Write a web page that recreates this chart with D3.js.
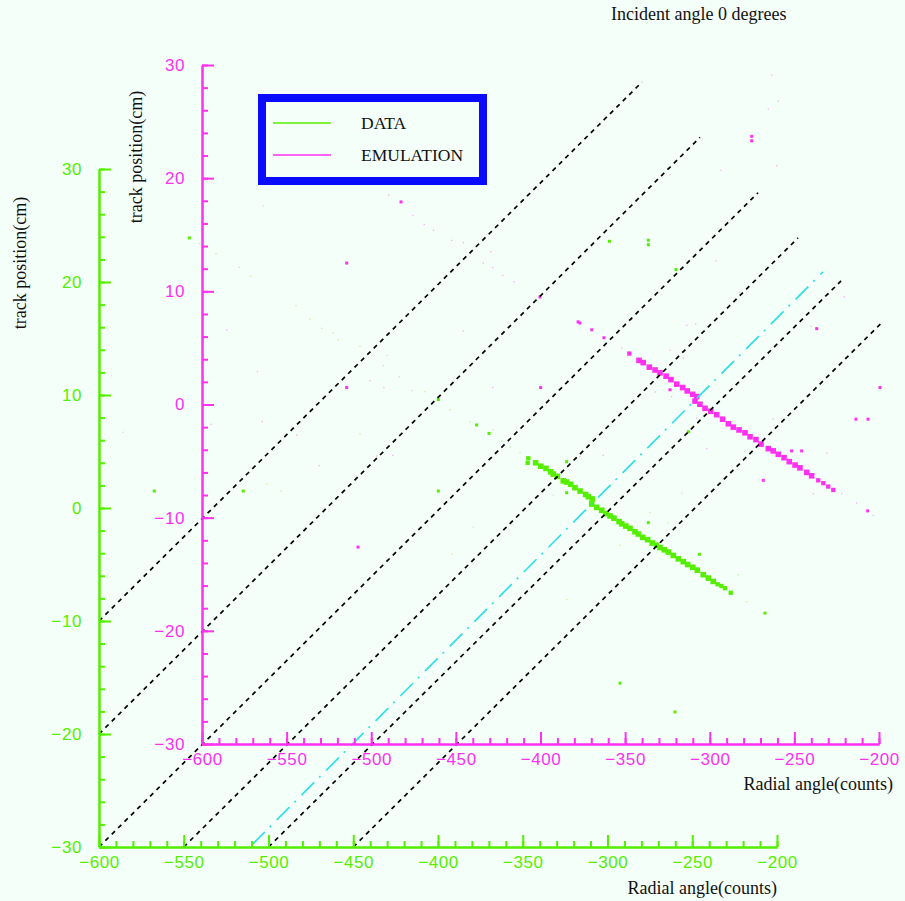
<!DOCTYPE html>
<html>
<head>
<meta charset="utf-8">
<script src="https://cdn.jsdelivr.net/npm/d3@7"></script>
<style>
  body { margin: 0; background: #f5fffa; }
  svg { display: block; }
</style>
</head>
<body>
<script>
// Track position vs radial angle: DATA and EMULATION drawn in two offset frames
const title = "Incident angle 0 degrees";
const xTitle = "Radial angle(counts)";
const yTitle = "track position(cm)";
const seriesNames = ["DATA", "EMULATION"];
const xDomain = [-600, -200];
const yDomain = [-30, 30];

// [radial angle, track position, entries]
const dataPoints = [
  [-346.7, 4.4, 3], [-347.1, 4.0, 3], [-342.4, 4.0, 4], [-339.4, 3.7, 4], [-336.3, 3.5, 4],
  [-333.5, 3.2, 4], [-332.0, 3.0, 4], [-329.6, 2.8, 4], [-326.1, 2.4, 4], [-324.1, 2.3, 4],
  [-321.7, 2.1, 4], [-319.2, 1.8, 4], [-316.2, 1.5, 4], [-312.9, 1.2, 4], [-311.3, 1.0, 4],
  [-309.0, 0.8, 4], [-309.3, 0.35, 4], [-306.4, 0.06, 4], [-303.4, -0.2, 4], [-300.9, -0.5, 4],
  [-298.5, -0.7, 4], [-296.2, -0.9, 4], [-293.2, -1.2, 4], [-291.6, -1.4, 4], [-289.2, -1.6, 4],
  [-286.7, -1.8, 4], [-283.8, -2.1, 4], [-281.8, -2.3, 4], [-279.2, -2.6, 4], [-276.3, -2.8, 4],
  [-273.6, -3.1, 4], [-271.0, -3.3, 4], [-269.0, -3.5, 4], [-266.5, -3.7, 4], [-264.1, -3.9, 4],
  [-261.2, -4.2, 4], [-258.2, -4.5, 4], [-255.3, -4.75, 4], [-252.7, -5.0, 4], [-249.7, -5.25, 4],
  [-247.0, -5.5, 4], [-243.5, -5.9, 4], [-240.5, -6.2, 4], [-237.6, -6.5, 4], [-235.0, -6.75, 3],
  [-232.8, -6.9, 3], [-230.7, -7.1, 3], [-227.3, -7.5, 3],
  [-324.1, 4.1, 2], [-324.1, 1.35, 2], [-275.9, -1.3, 2], [-245.8, -4.1, 2], [-399.8, 1.5, 2],
  [-369.9, 6.6, 2], [-252.3, 6.75, 2], [-377.2, 7.35, 2], [-399.8, 9.6, 2], [-514.9, 1.5, 2],
  [-567.4, 1.5, 2], [-546.7, 23.9, 2], [-298.9, 23.6, 2], [-275.9, 23.7, 2], [-275.9, 23.3, 2],
  [-259.6, 21.1, 2], [-207.1, -9.3, 2], [-260.2, -18.05, 2], [-292.6, -15.5, 2],
  [-503.1, 26.75, 1], [-540.8, 23.4, 1], [-531.0, 22.5, 1], [-517.2, 21.3, 1], [-510.5, 20.5, 1],
  [-483.8, 17.9, 1], [-475.5, 16.7, 1], [-468.6, 15.9, 1], [-461.8, 15.5, 1], [-458.8, 14.9, 1],
  [-446.0, 14.3, 1], [-429.9, 13.5, 1], [-432.3, 12.6, 1], [-422.8, 11.6, 1], [-415.5, 10.4, 1],
  [-407.7, 10.3, 1], [-392.9, 8.7, 1], [-381.1, 7.6, 1], [-367.4, 6.9, 1], [-362.4, 5.9, 1],
  [-357.5, 5.4, 1], [-446.0, 6.55, 1], [-501.1, 2.1, 1], [-492.6, 1.5, 1], [-592.5, 11.7, 1],
  [-585.7, 6.7, 1], [-351.6, 4.9, 1], [-332.0, 1.15, 1], [-256.2, 1.3, 1], [-264.1, -1.3, 1],
  [-292.6, -3.3, 1], [-222.8, -5.9, 1], [-217.9, -8.3, 1], [-324.1, -8.1, 1], [-391.6, -4.1, 1],
  [-379.2, -1.7, 1], [-274.9, -0.4, 1]
];

const emulationPoints = [
  [-376.7, 7.2, 2], [-369.7, 6.6, 2], [-362.5, 5.9, 2],
  [-347.5, 4.5, 3], [-341.8, 3.9, 4], [-339.3, 3.7, 4], [-335.7, 3.3, 4], [-332.3, 3.05, 4],
  [-329.4, 2.8, 4], [-325.8, 2.5, 4], [-322.9, 2.2, 4], [-319.5, 1.8, 4], [-316.0, 1.5, 4],
  [-313.3, 1.2, 4], [-310.1, 0.9, 4], [-307.7, 0.7, 4], [-308.7, 0.3, 4], [-305.8, 0.02, 4],
  [-302.8, -0.34, 4], [-299.4, -0.6, 4], [-295.9, -0.9, 4], [-292.4, -1.3, 4], [-289.0, -1.7, 4],
  [-286.1, -2.0, 4], [-282.7, -2.25, 4], [-279.2, -2.5, 4], [-276.2, -2.85, 4], [-272.7, -3.1, 4],
  [-269.7, -3.5, 4], [-265.4, -3.9, 4], [-262.5, -4.1, 4], [-259.5, -4.4, 4], [-256.1, -4.7, 4],
  [-253.0, -5.05, 4], [-249.6, -5.35, 4], [-246.7, -5.6, 4], [-242.7, -6.0, 4], [-239.8, -6.3, 4],
  [-235.9, -6.7, 3], [-232.9, -6.95, 3], [-230.0, -7.25, 3], [-227.0, -7.55, 3],
  [-323.5, 1.3, 2], [-268.4, -6.7, 2], [-213.6, -1.3, 2], [-206.5, -1.3, 2], [-199.4, 1.5, 2],
  [-236.8, 6.7, 2], [-245.7, -4.1, 2], [-251.6, -4.1, 2], [-206.7, -9.4, 2], [-275.2, 23.7, 2],
  [-275.2, 23.3, 2], [-482.4, 17.9, 2], [-514.5, 12.5, 2], [-514.5, 1.5, 2], [-507.8, -12.6, 2],
  [-400.3, 9.5, 2], [-377.8, 7.3, 2], [-399.9, 1.5, 2],
  [-489.7, 18.5, 1], [-475.5, 16.7, 1], [-468.7, 15.9, 1], [-463.3, 15.4, 1], [-452.5, 14.5, 1],
  [-445.6, 14.3, 1], [-429.4, 13.5, 1], [-433.8, 12.5, 1], [-428.2, 12.1, 1], [-422.3, 11.4, 1],
  [-415.5, 10.85, 1], [-585.4, 6.6, 1], [-567.3, 2.9, 1], [-500.7, 2.1, 1], [-492.5, 1.5, 1],
  [-445.6, 6.5, 1], [-428.2, 1.5, 1], [-564.4, -1.5, 1], [-544.0, -2.7, 1], [-530.7, -5.4, 1],
  [-496.8, -4.55, 1], [-487.3, -4.5, 1], [-594.7, -1.75, 1], [-263.4, 29.1, 1], [-259.5, 26.8, 1],
  [-265.4, 26.1, 1], [-293.4, 20.7, 1], [-260.4, 21.1, 1], [-323.5, 20.3, 1], [-296.3, 12.7, 1],
  [-282.5, 9.9, 1], [-220.5, 9.5, 1], [-240.2, 6.9, 1], [-313.6, 7.0, 1], [-308.3, 7.1, 1],
  [-346.1, 7.5, 1], [-352.0, 5.0, 1], [-323.5, 4.8, 1], [-315.6, 4.1, 1], [-332.3, 1.1, 1],
  [-322.5, 0.7, 1], [-307.7, -1.2, 1], [-262.5, -1.3, 1], [-252.6, -4.1, 1], [-230.9, -4.3, 1],
  [-301.8, -3.9, 1], [-362.9, -4.5, 1], [-279.2, -4.1, 1], [-238.8, -7.9, 1], [-222.0, -7.85, 1],
  [-213.2, -8.7, 1], [-203.4, -9.8, 1], [-376.7, -4.6, 1]
];

// reference lines in the DATA frame: [x0, y0, x1, y1]
const guideLines = [
  [-600, -10, -279.6, 37.7],
  [-600, -20, -245.4, 32.8],
  [-600, -30, -211.2, 27.9],
  [-550, -30, -187.6, 23.9],
  [-500, -30, -162.2, 20.1],
  [-450, -30, -137.5, 16.5]
];
const fitLine = [-509.7, -29.8, -172.9, 20.9];

const width = 905, height = 901;
const bg = "#f5fffa";
const green = "#55ee00", magenta = "#ff30f0";
const serif = "'Liberation Serif', 'Times New Roman', serif";
const sans = "'Liberation Sans', Arial, sans-serif";

const svg = d3.select("body").append("svg")
    .attr("width", width)
    .attr("height", height)
    .style("background", bg);

// frame scales: the emulation frame is shifted up-right of the data frame
const gx = d3.scaleLinear().domain(xDomain).range([99, 777]);
const gy = d3.scaleLinear().domain(yDomain).range([847, 169]);
const mx = d3.scaleLinear().domain(xDomain).range([202, 879]);
const my = d3.scaleLinear().domain(yDomain).range([744, 65]);

const boxSize = d3.scaleLinear().domain([1, 2, 4]).range([1.3, 3, 5.6]);
const boxAlpha = d3.scaleLinear().domain([1, 2]).range([0.4, 1]).clamp(true);

function drawPoints(points, sx, sy, color) {
    svg.append("g")
        .attr("fill", color)
        .selectAll("rect")
        .data(points)
        .join("rect")
        .attr("x", d => sx(d[0]) - boxSize(d[2]) / 2)
        .attr("y", d => sy(d[1]) - boxSize(d[2]) / 2)
        .attr("width", d => boxSize(d[2]))
        .attr("height", d => boxSize(d[2]))
        .attr("fill-opacity", d => boxAlpha(d[2]));
}

function drawFrame(sx, sy, color, xLabelPos, yLabelPos) {
    const g = svg.append("g").style("color", color);
    const x0 = sx.range()[0], y0 = sy.range()[0];

    // minor ticks
    g.append("g")
        .attr("transform", `translate(0,${y0})`)
        .call(d3.axisBottom(sx).ticks(40).tickSizeInner(-6).tickSizeOuter(0).tickFormat(""));
    g.append("g")
        .attr("transform", `translate(${x0},0)`)
        .call(d3.axisLeft(sy).ticks(30).tickSizeInner(-6).tickSizeOuter(0).tickFormat(""));

    // major ticks + labels
    g.append("g")
        .attr("transform", `translate(0,${y0})`)
        .call(d3.axisBottom(sx).ticks(8).tickSizeInner(-12).tickSizeOuter(0).tickPadding(9));
    g.append("g")
        .attr("transform", `translate(${x0},0)`)
        .call(d3.axisLeft(sy).ticks(6).tickSizeInner(-12).tickSizeOuter(0).tickPadding(17));

    g.selectAll("path, line").attr("stroke-width", 2);
    g.selectAll("text")
        .attr("font-family", sans)
        .attr("font-size", 17)
        .attr("letter-spacing", 0.6);

    svg.append("text")
        .attr("x", xLabelPos[0])
        .attr("y", xLabelPos[1])
        .attr("text-anchor", "end")
        .attr("font-family", serif)
        .attr("font-size", 18)
        .attr("fill", "#111")
        .text(xTitle);

    svg.append("text")
        .attr("transform", `translate(${yLabelPos[0]},${yLabelPos[1]}) rotate(-90)`)
        .attr("text-anchor", "middle")
        .attr("font-family", serif)
        .attr("font-size", 18)
        .attr("fill", "#111")
        .text(yTitle);
}

drawPoints(dataPoints, gx, gy, green);
drawPoints(emulationPoints, mx, my, magenta);

// dashed guide lines and the dash-dot fit line
svg.append("g")
    .attr("stroke", "#000")
    .attr("stroke-width", 1.7)
    .attr("stroke-dasharray", "4.5,4.5")
    .selectAll("line")
    .data(guideLines)
    .join("line")
    .attr("x1", d => gx(d[0]))
    .attr("y1", d => gy(d[1]))
    .attr("x2", d => gx(d[2]))
    .attr("y2", d => gy(d[3]));

svg.append("line")
    .attr("x1", gx(fitLine[0]))
    .attr("y1", gy(fitLine[1]))
    .attr("x2", gx(fitLine[2]))
    .attr("y2", gy(fitLine[3]))
    .attr("stroke", "#2ee0e6")
    .attr("stroke-width", 1.7)
    .attr("stroke-dasharray", "18,7,2,8");

drawFrame(gx, gy, green, [777, 894], [26, 263]);
drawFrame(mx, my, magenta, [893, 790], [142, 157]);

svg.append("text")
    .attr("x", 611)
    .attr("y", 20)
    .attr("font-family", serif)
    .attr("font-size", 18)
    .attr("fill", "#111")
    .text(title);

// legend
const legend = svg.append("g");
legend.append("rect")
    .attr("x", 262).attr("y", 98)
    .attr("width", 221).attr("height", 83)
    .attr("fill", "none")
    .attr("stroke", "#0a0aff")
    .attr("stroke-width", 8);

const legendRows = legend.selectAll("g.row")
    .data(seriesNames)
    .join("g")
    .attr("class", "row")
    .attr("transform", (d, i) => `translate(0,${123 + i * 32})`);

legendRows.append("line")
    .attr("x1", 273).attr("x2", 331)
    .attr("stroke", (d, i) => i === 0 ? green : magenta)
    .attr("stroke-width", 1.5);

legendRows.append("text")
    .attr("x", 361)
    .attr("y", 6)
    .attr("font-family", serif)
    .attr("font-size", 17.5)
    .attr("fill", "#111")
    .text(d => d);
</script>
</body>
</html>
